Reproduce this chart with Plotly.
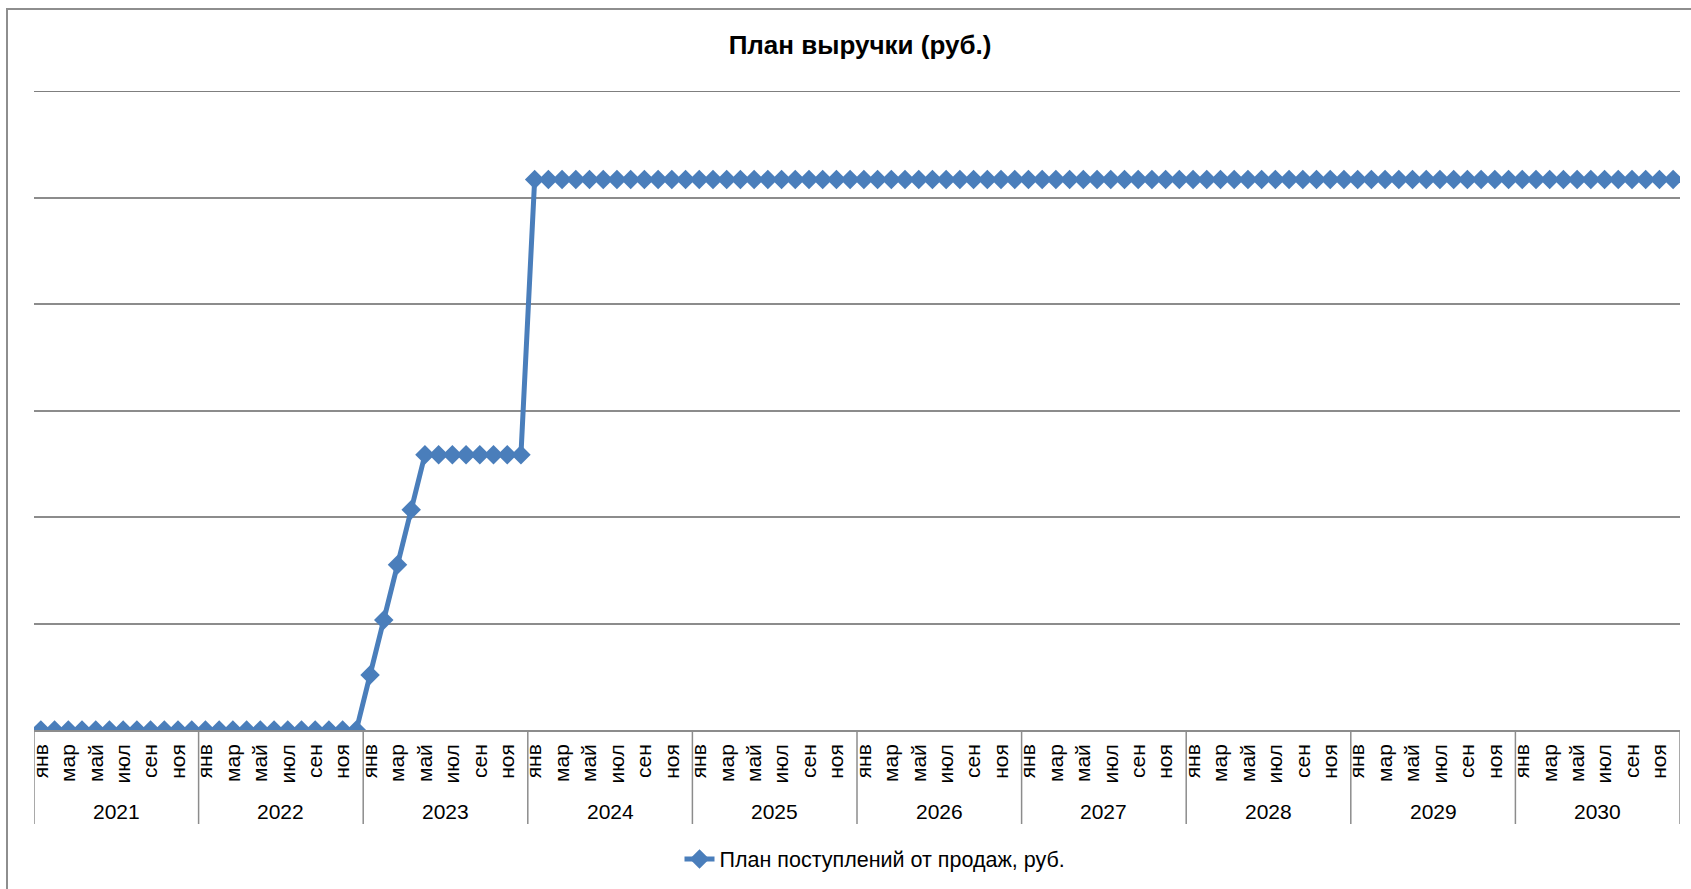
import plotly.graph_objects as go

# ---- data ----
years = ["2021", "2022", "2023", "2024", "2025", "2026", "2027", "2028", "2029", "2030"]
months = ["янв", "фев", "мар", "апр", "май", "июн", "июл", "авг", "сен", "окт", "ноя", "дек"]
shown_months = ["янв", "мар", "май", "июл", "сен", "ноя"]

v2021 = [0, 0, 0, 0, 0, 0, 0, 0, 0, 0, 0, 0]
v2022 = [0, 0, 0, 0, 0, 0, 0, 0, 0, 0, 0, 0]
v2023 = [1034000, 2068000, 3102000, 4136000, 5170000, 5170000,
         5170000, 5170000, 5170000, 5170000, 5170000, 5170000]
v2024 = [10340000] * 12
v2025 = [10340000] * 12
v2026 = [10340000] * 12
v2027 = [10340000] * 12
v2028 = [10340000] * 12
v2029 = [10340000] * 12
v2030 = [10340000] * 12
yearly_values = [v2021, v2022, v2023, v2024, v2025, v2026, v2027, v2028, v2029, v2030]

y_grid = [2000000, 4000000, 6000000, 8000000, 10000000, 12000000]

series_name = "План поступлений от продаж, руб."
title_text = "План выручки (руб.)"

# ---- build ----
values = [v for yv in yearly_values for v in yv]
xs = list(range(len(values)))

FONT = "Liberation Sans, Arial, sans-serif"
BLUE = "#4A7EBB"
GRID = "#8C8C8C"

W, H = 1691, 889
L, R, T, B = 34, 11, 91, 159
plot_h = H - T - B
plot_w = W - L - R

def py(pix):
    return (H - B - pix) / plot_h

def px(pix):
    return (pix - L) / plot_w

fig = go.Figure()
fig.add_trace(go.Scatter(
    x=xs, y=values, mode="lines+markers", name=series_name,
    line=dict(color=BLUE, width=5),
    marker=dict(symbol="diamond", size=15, color=BLUE),
))

tickvals = [i * 12 + months.index(m) for i in range(len(years)) for m in shown_months]
ticktext = [months[t % 12] for t in tickvals]

shapes = []
# top gridline (at range edge)
shapes.append(dict(type="line", xref="paper", yref="y", x0=0, x1=1,
                   y0=y_grid[-1], y1=y_grid[-1], layer="above",
                   line=dict(color="#7F7F7F", width=2)))
for k in range(len(years) + 1):
    shapes.append(dict(type="line", xref="x", yref="paper",
                       x0=k * 12 - 0.5, x1=k * 12 - 0.5, y0=0, y1=py(824),
                       line=dict(color=GRID, width=1.5)))
# outer chart border
shapes.append(dict(type="rect", xref="paper", yref="paper",
                   x0=px(7), x1=px(1720), y0=py(9), y1=py(920),
                   line=dict(color="#8E8E8E", width=2), fillcolor="rgba(0,0,0,0)"))

annotations = []
for i, yname in enumerate(years):
    annotations.append(dict(x=i * 12 + 5.5, xref="x", y=py(811), yref="paper",
                            text=yname, showarrow=False, yanchor="middle",
                            font=dict(family=FONT, size=21, color="black")))

fig.update_layout(
    width=W, height=H,
    margin=dict(l=L, r=R, t=T, b=B, autoexpand=False),
    paper_bgcolor="white", plot_bgcolor="white",
    title=dict(text="<b>" + title_text + "</b>", xref="container", x=860 / W,
               xanchor="center", y=1 - 45 / H, yanchor="middle",
               font=dict(family=FONT, size=26, color="black")),
    xaxis=dict(range=[-0.5, len(values) - 0.5], tickmode="array",
               tickvals=tickvals, ticktext=ticktext, tickangle=-90,
               showgrid=False, zeroline=False, showline=True, linecolor=GRID,
               linewidth=1.5, ticks="", ticklabelstandoff=4,
               tickfont=dict(family=FONT, size=21, color="black")),
    yaxis=dict(range=[0, y_grid[-1]], tickmode="array", tickvals=y_grid,
               showticklabels=False,
               showgrid=True, gridcolor=GRID, gridwidth=1.5, zeroline=False,
               showline=False, ticks=""),
    showlegend=True,
    legend=dict(orientation="h", x=px(875), xanchor="center", y=py(859), yanchor="middle",
                font=dict(family=FONT, size=21.5, color="black"),
                bgcolor="rgba(0,0,0,0)"),
    shapes=shapes, annotations=annotations,
)

fig.write_html("out.html", config={"displayModeBar": False},
               post_script="document.body.style.margin='0px';")
